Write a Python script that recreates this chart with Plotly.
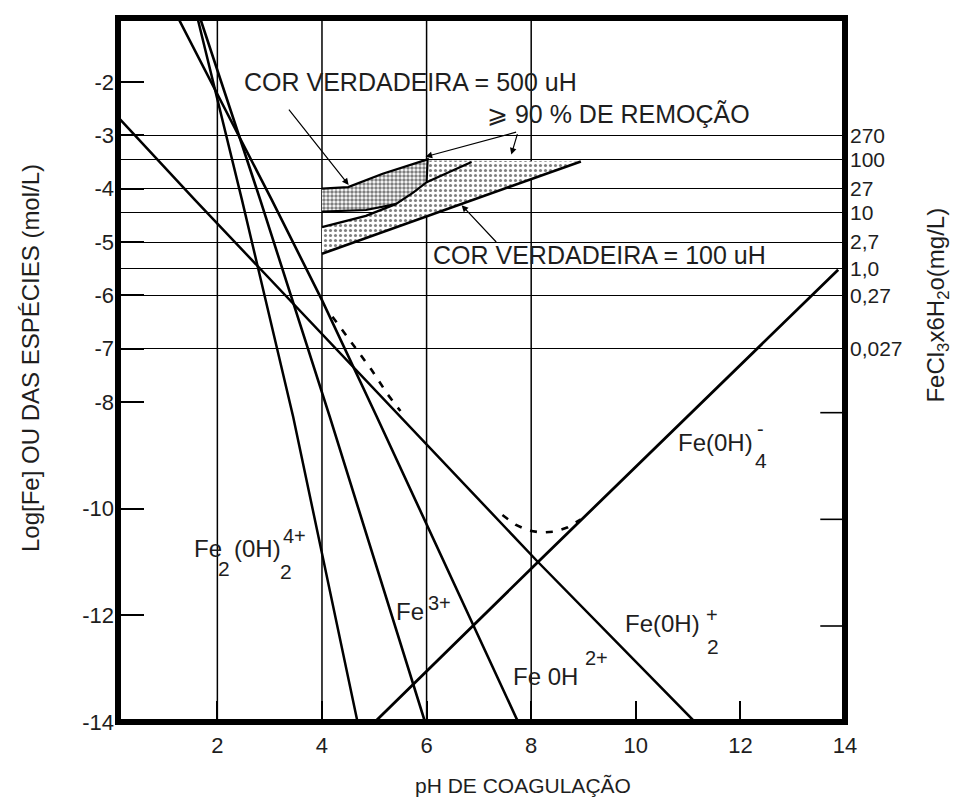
import plotly.graph_objects as go

# ---------------- data ----------------
ph_fe2oh2 = [1.62, 2.47, 3.45, 4.68]
log_fe2oh2 = [-0.8, -4.21, -8.28, -14.0]

ph_fe3 = [1.67, 2.82, 4.15, 5.97]
log_fe3 = [-0.8, -4.21, -8.28, -14.0]

ph_feoh = [1.25, 3.04, 4.0, 5.05, 7.75]
log_feoh = [-0.8, -4.21, -6.09, -8.28, -14.0]

ph_feoh2 = [0.1, 1.57, 8.13, 11.13]
log_feoh2 = [-2.66, -4.21, -11.0, -14.0]

ph_feoh4 = [5.01, 8.13, 13.87]
log_feoh4 = [-14.0, -11.0, -5.52]

ph_total_a = [4.2, 4.4, 4.65, 4.95, 5.25, 5.5]
log_total_a = [-6.4, -6.67, -7.0, -7.4, -7.85, -8.17]
ph_total_b = [7.45, 7.7, 7.95, 8.2, 8.45, 8.7, 8.95]
log_total_b = [-10.12, -10.3, -10.41, -10.45, -10.43, -10.35, -10.2]

# coagulation zones
ph_zone500 = [4.0, 4.5, 5.16, 5.68, 6.02, 6.0, 5.75, 5.41, 4.84, 4.0]
log_zone500 = [-4.0, -3.97, -3.72, -3.55, -3.45, -3.88, -4.07, -4.29, -4.40, -4.43]

ph_zone100 = [4.0, 8.95, 6.05, 6.0, 5.75, 5.41, 4.84, 4.0]
log_zone100 = [-5.22, -3.49, -3.47, -3.88, -4.07, -4.29, -4.51, -4.72]

ph_zone100_low = [4.0, 8.95]
log_zone100_low = [-5.22, -3.49]
ph_zone100_up = [4.0, 4.84, 5.41]
log_zone100_up = [-4.72, -4.51, -4.29]
ph_inner = [6.0, 6.42, 6.86]
log_inner = [-3.88, -3.69, -3.5]

# axes
x_ticks = [2, 4, 6, 8, 10, 12, 14]
x_ticktext = ["2", "4", "6", "8", "10", "12", "14"]
y_ticks = [-2, -3, -4, -5, -6, -7, -8, -10, -12, -14]
y_ticktext = ["-2", "-3", "-4", "-5", "-6", "-7", "-8", "-10", "-12", "-14"]
right_log = [-3.0, -3.45, -4.0, -4.45, -5.0, -5.5, -6.0, -7.0]
right_text = ["270", "100", "27", "10", "2,7", "1,0", "0,27", "0,027"]
grid_ph = [2, 4, 6, 8]
right_tick_log = [-8.2, -10.2, -12.2]

FONT = "Liberation Sans, Arial, sans-serif"
TXT = "#1e1e1e"

fig = go.Figure()

# zones
fig.add_trace(go.Scatter(x=ph_zone100, y=log_zone100, mode="lines", fill="toself",
                         line=dict(width=0, color="black"),
                         fillcolor="rgba(0,0,0,0)",
                         fillpattern=dict(shape=".", fgcolor="black", bgcolor="white",
                                          size=5, solidity=0.3),
                         hoverinfo="skip", showlegend=False))
fig.add_trace(go.Scatter(x=ph_zone500, y=log_zone500, mode="lines", fill="toself",
                         line=dict(width=2.2, color="black"),
                         fillcolor="rgba(0,0,0,0)",
                         fillpattern=dict(shape=".", fgcolor="black", bgcolor="white",
                                          size=4, solidity=0.6),
                         hoverinfo="skip", showlegend=False))
for xs, ys, w in [(ph_zone100_low, log_zone100_low, 2.6),
                  (ph_zone100_up, log_zone100_up, 2.4),
                  (ph_inner, log_inner, 2.4)]:
    fig.add_trace(go.Scatter(x=xs, y=ys, mode="lines", line=dict(color="black", width=w),
                             hoverinfo="skip", showlegend=False))

# species lines
for xs, ys, w in [(ph_fe2oh2, log_fe2oh2, 2.5),
                  (ph_fe3, log_fe3, 2.6),
                  (ph_feoh, log_feoh, 2.6),
                  (ph_feoh2, log_feoh2, 2.5),
                  (ph_feoh4, log_feoh4, 2.8)]:
    fig.add_trace(go.Scatter(x=xs, y=ys, mode="lines", line=dict(color="black", width=w),
                             hoverinfo="skip", showlegend=False))

for xs, ys in [(ph_total_a, log_total_a), (ph_total_b, log_total_b)]:
    fig.add_trace(go.Scatter(x=xs, y=ys, mode="lines",
                             line=dict(color="black", width=2.6, dash="7px,9px"),
                             hoverinfo="skip", showlegend=False))

# dummy trace for the right axis
fig.add_trace(go.Scatter(x=[None], y=[None], yaxis="y2", showlegend=False, hoverinfo="skip"))

shapes = []
for p in grid_ph:
    shapes.append(dict(type="line", xref="x", yref="paper", x0=p, x1=p, y0=0, y1=1,
                       line=dict(color="black", width=1.5), layer="below"))
for v in right_tick_log:
    shapes.append(dict(type="line", xref="paper", yref="y", x0=0.966, x1=1, y0=v, y1=v,
                       line=dict(color="black", width=1.6)))
shapes.append(dict(type="rect", xref="paper", yref="paper", x0=0, x1=1, y0=0, y1=1,
                   line=dict(color="black", width=6), layer="above"))

ann = []
def txt(x, y, s, size=24, xanchor="left", yanchor="middle"):
    ann.append(dict(x=x, y=y, xref="x", yref="y", text=s, showarrow=False,
                    xanchor=xanchor, yanchor=yanchor,
                    font=dict(family=FONT, size=size, color=TXT)))

def arrow(x, y, ax, ay):
    ann.append(dict(x=x, y=y, ax=ax, ay=ay, xref="x", yref="y", axref="x", ayref="y",
                    text=" ", showarrow=True, arrowhead=2, arrowsize=1.1,
                    arrowwidth=1.2, arrowcolor="black",
                    font=dict(family=FONT, size=2, color=TXT)))

# zone texts and arrows
txt(2.47, -2.0, "COR VERDADEIRA = 500 uH", size=25)
arrow(4.51, -3.93, 3.33, -2.47)
txt(7.12, -2.6, "⩾ 90 % DE REMOÇÃO", size=25)
arrow(5.98, -3.40, 7.75, -2.93)
arrow(7.62, -3.36, 7.75, -2.93)
txt(6.08, -5.25, "COR VERDADEIRA = 100 uH", size=25)
arrow(6.67, -4.31, 7.37, -5.04)

# species labels
txt(1.52, -10.75, "Fe")
txt(2.13, -11.12, "2", size=21, xanchor="center")
txt(2.27, -10.75, "(0H)")
txt(3.31, -11.18, "2", size=21, xanchor="center")
txt(3.47, -10.51, "4+", size=20, xanchor="center")

txt(5.37, -11.93, "Fe")
txt(5.98, -11.76, "3+", size=20)

txt(7.62, -13.14, "Fe 0H")
txt(9.24, -12.80, "2+", size=20, xanchor="center")

txt(9.75, -12.15, "Fe(0H)")
txt(11.47, -12.58, "2", size=21, xanchor="center")
txt(11.45, -12.0, "+", size=20, xanchor="center")

txt(10.76, -8.75, "Fe(0H)")
txt(12.40, -9.09, "4", size=21, xanchor="center")
txt(12.38, -8.51, "-", size=20, xanchor="center")

# axis titles
ann.append(dict(x=0.557, y=-0.09, xref="paper", yref="paper", showarrow=False,
                text="pH DE COAGULAÇÃO", xanchor="center", yanchor="middle",
                font=dict(family=FONT, size=21, color=TXT)))
ann.append(dict(x=-0.121, y=0.517, xref="paper", yref="paper", showarrow=False,
                text="Log[Fe] OU DAS ESPÉCIES (mol/L)", textangle=-90,
                xanchor="center", yanchor="middle",
                font=dict(family=FONT, size=24, color=TXT)))
ann.append(dict(x=1.127, y=0.592, xref="paper", yref="paper", showarrow=False,
                text="FeCl<sub>3</sub>x6H<sub>2</sub>o(mg/L)", textangle=-90,
                xanchor="center", yanchor="middle",
                font=dict(family=FONT, size=24, color=TXT)))

fig.update_layout(
    width=960, height=801,
    margin=dict(l=118, r=115, t=18, b=79),
    paper_bgcolor="white", plot_bgcolor="white",
    showlegend=False,
    shapes=shapes, annotations=ann,
    xaxis=dict(range=[0.1, 14.0], tickvals=x_ticks, ticktext=x_ticktext,
               ticks="inside", ticklen=21, tickwidth=1.6, tickcolor="black",
               showgrid=False, zeroline=False, showline=False,
               ticklabelstandoff=8,
               tickfont=dict(family=FONT, size=22, color=TXT)),
    yaxis=dict(range=[-14, -0.8], tickvals=y_ticks, ticktext=y_ticktext,
               ticks="inside", ticklen=26, tickwidth=1.6, tickcolor="black",
               showgrid=False, zeroline=False, showline=False,
               ticklabelstandoff=3,
               tickfont=dict(family=FONT, size=22, color=TXT)),
    yaxis2=dict(range=[-14, -0.8], overlaying="y", side="right", anchor="x",
                tickvals=right_log, ticktext=right_text, ticks="",
                showgrid=True, gridcolor="black", gridwidth=1.4,
                zeroline=False, showline=False, ticklabelstandoff=4,
                tickfont=dict(family=FONT, size=21, color=TXT)),
)

fig.write_html("out.html")
